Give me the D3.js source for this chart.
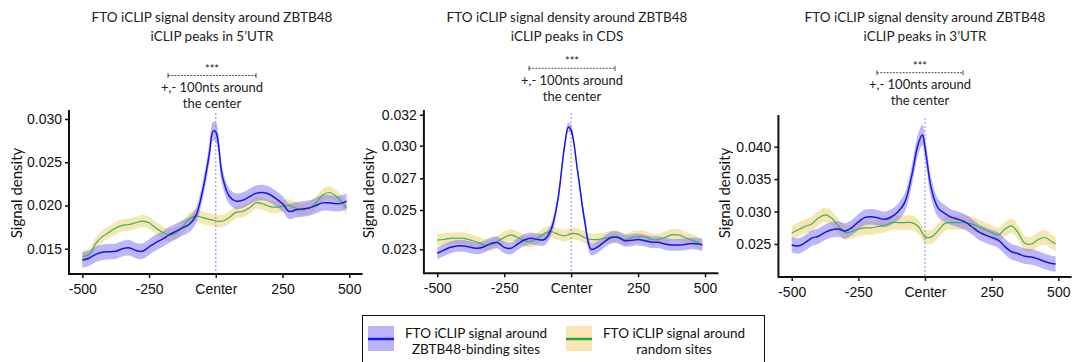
<!DOCTYPE html>
<html>
<head>
<meta charset="utf-8">
<script src="https://cdn.jsdelivr.net/npm/d3@7"></script>
<style>
  body { margin: 0; background: #fff; }
  svg { display: block; font-family: Lato, "Open Sans", sans-serif; }
</style>
</head>
<body>
<svg id="chart" width="1078" height="362"></svg>
<script>
// Positions around the peak centre (nt)
const positions = [-500, -475, -450, -425, -400, -375, -350, -325, -300, -275,
  -250, -225, -200, -175, -150, -125, -100, -75, -50, -25,
  -10, 0, 25, 50, 75, 100, 125, 150, 175, 200,
  225, 250, 275, 300, 325, 350, 375, 400, 425, 450, 475, 490];

// 5'UTR panel
const utr5Binding = [.0137, .0139, .01435, .0146, .01465, .0147, .0150, .0151, .0148, .0147,
  .0152, .0157, .0161, .0166, .0170, .0174, .0178, .0188, .0216, .0258,
  .0286, .0285, .0233, .0211, .0205, .0206, .0210, .0214, .0215, .0213,
  .0208, .0202, .0193, .0195, .0196, .0197, .0200, .0203, .0203, .0202, .0203, .0205];
const utr5BindingSE = [.0009, .0009, .0009, .0009, .0009, .0009, .0009, .0009, .0009, .0009,
  .0009, .0009, .0009, .0009, .0009, .0009, .0009, .0009, .0010, .0011,
  .0011, .0011, .0010, .0009, .0009, .0009, .0009, .0009, .0009, .0009,
  .0009, .0009, .0009, .0009, .0009, .0009, .0009, .0009, .0009, .0009, .0009, .0009];
const utr5Random = [.0141, .0143, .0156, .0164, .0169, .0174, .0177, .0178, .0180, .0182,
  .0180, .0174, .0169, .0166, .0168, .0175, .0184, .0188, .0186, .0184,
  .0183, .0182, .0182, .0186, .0192, .0193, .0197, .0203, .0202, .0199,
  .0198, .0199, .0200, .0197, .0195, .0197, .0203, .0212, .0215, .0211, .0203, .0197];
const utr5RandomSE = [.0007, .0007, .0007, .0007, .0007, .0007, .0007, .0007, .0007, .0007,
  .0007, .0007, .0007, .0007, .0007, .0007, .0007, .0007, .0007, .0007,
  .0007, .0007, .0007, .0007, .0007, .0007, .0007, .0007, .0007, .0007,
  .0007, .0007, .0007, .0007, .0007, .0007, .0007, .0007, .0007, .0007, .0007, .0007];

// CDS panel
const cdsBinding = [.0228, .02296, .0231, .02317, .02317, .0231, .02305, .02313, .0233, .02334,
  .0231, .02305, .02327, .02347, .02356, .0235, .0235, .0240, .0256, .0299,
  .0312, .0310, .0275, .0245, .0230, .02313, .02339, .0236, .0236, .02344,
  .02346, .0235, .02344, .02336, .02336, .02327, .02322, .02322, .02325, .0233, .02327, .02322];
const cdsBindingSE = [.0003, .0003, .0003, .0003, .0003, .0003, .0003, .0003, .0003, .0003,
  .0003, .0003, .0003, .0003, .0003, .0003, .0003, .0003, .0003, .0003,
  .0003, .0003, .0003, .0003, .0003, .0003, .0003, .0003, .0003, .0003,
  .0003, .0003, .0003, .0003, .0003, .0003, .0003, .0003, .0003, .0003, .0003, .0003];
const cdsRandom = [.02347, .0235, .02356, .02356, .02356, .02347, .02336, .02322, .02322, .0234,
  .0236, .02373, .0236, .02344, .0234, .02356, .02381, .0239, .02378, .02368,
  .02375, .0238, .02377, .0236, .0235, .0235, .02356, .02364, .02364, .0235,
  .0236, .02364, .02364, .0235, .0235, .0236, .02373, .02373, .0236, .02347, .02334, .02322];
const cdsRandomSE = [.0003, .0003, .0003, .0003, .0003, .0003, .0003, .0003, .0003, .0003,
  .0003, .0003, .0003, .0003, .0003, .0003, .0003, .0003, .0003, .0003,
  .0003, .0003, .0003, .0003, .0003, .0003, .0003, .0003, .0003, .0003,
  .0003, .0003, .0003, .0003, .0003, .0003, .0003, .0003, .0003, .0003, .0003, .0003];

// 3'UTR panel
const utr3Binding = [.02485, .0247, .0252, .0259, .0262, .0268, .0272, .0273, .0270, .0275,
  .0284, .0291, .0292, .0290, .0288, .0292, .0300, .0315, .0355, .0405,
  .0418, .0399, .0333, .0305, .0297, .0291, .0288, .0284, .0277, .0269,
  .0264, .0260, .0256, .0246, .0238, .0235, .0231, .0230, .0227, .0223, .0220, .0219];
const utr3BindingSE = [.0012, .0012, .0012, .0012, .0012, .0012, .0012, .0012, .0012, .0012,
  .0012, .0012, .0012, .0012, .0012, .0012, .0013, .0014, .0016, .0016,
  .0016, .0016, .0016, .0014, .0013, .0012, .0012, .0012, .0012, .0012,
  .0012, .0012, .0012, .0012, .0012, .0012, .0012, .0012, .0012, .0012, .0012, .0012];
const utr3Random = [.0267, .0272, .0277, .0281, .0290, .0295, .0290, .0278, .0268, .0269,
  .0273, .0275, .0275, .0277, .0279, .0283, .0283, .0283, .0283, .0277,
  .0267, .0261, .0261, .0271, .0282, .0283, .0283, .0283, .0281, .0277,
  .0272, .0268, .0264, .0273, .0278, .0267, .0251, .0250, .0257, .0260, .0254, .0250];
const utr3RandomSE = [.0011, .0011, .0011, .0011, .0011, .0011, .0011, .0011, .0011, .0011,
  .0011, .0011, .0011, .0011, .0011, .0011, .0011, .0011, .0011, .0011,
  .0011, .0011, .0011, .0011, .0011, .0011, .0011, .0011, .0011, .0011,
  .0011, .0011, .0011, .0011, .0011, .0011, .0011, .0011, .0011, .0011, .0011, .0011];

// Axis ticks and labels
const xTicks = [-500, -250, 0, 250, 500];
const xTickLabels = ["-500", "-250", "Center", "250", "500"];
const utr5Ticks = [0.015, 0.020, 0.025, 0.030];
const cdsTicks = [0.023, 0.025, 0.027, 0.030, 0.032];
const utr3Ticks = [0.025, 0.030, 0.035, 0.040];

const titles = ["5\u2019UTR", "CDS", "3\u2019UTR"];
const legendLabels = [["FTO iCLIP signal around", "ZBTB48-binding sites"],
  ["FTO iCLIP signal around", "random sites"]];

const blueLine = "#1515f2", blueBand = "#7b6ff0";
const greenLine = "#35b26e", yellowBand = "#f0d67a";

// Panel layout
const panels = [
  { region: titles[0], binding: utr5Binding, bindingSE: utr5BindingSE, random: utr5Random, randomSE: utr5RandomSE,
    ticks: utr5Ticks, yDomain: [0.015, 0.030], yRange: [248.7, 119],
    xRange: [69, 362.6], top: 110, bottom: 274, titleX: 212, ann: { x: 212, y: 75.5, x0: 168, x1: 256 }, labelX: 22 },
  { region: titles[1], binding: cdsBinding, bindingSE: cdsBindingSE, random: cdsRandom, randomSE: cdsRandomSE,
    ticks: cdsTicks, yDomain: cdsTicks, yRange: [249.3, 210, 178.3, 145.7, 114.7],
    xRange: [423.9, 718.4], top: 110, bottom: 273.3, titleX: 567, ann: { x: 572, y: 68.3, x0: 529, x1: 615 }, labelX: 374 },
  { region: titles[2], binding: utr3Binding, bindingSE: utr3BindingSE, random: utr3Random, randomSE: utr3RandomSE,
    ticks: utr3Ticks, yDomain: [0.025, 0.040], yRange: [244, 146.7],
    xRange: [778.4, 1071.6], top: 115, bottom: 277, titleX: 925, ann: { x: 920, y: 72.7, x0: 877, x1: 963 }, labelX: 730 }
];

const svg = d3.select("#chart");

panels.forEach((p) => {
  const x = d3.scaleLinear().domain([-550, 550]).range(p.xRange);
  const y = d3.scaleLinear().domain(p.yDomain).range(p.yRange);
  const g = svg.append("g");

  // title
  const title = g.append("text")
    .attr("text-anchor", "middle")
    .attr("font-size", 13.5)
    .attr("fill", "#222");
  title.append("tspan").attr("x", p.titleX).attr("y", 21.5).text("FTO iCLIP signal density around ZBTB48");
  title.append("tspan").attr("x", p.titleX).attr("y", 40.5).text("iCLIP peaks in " + p.region);

  // significance annotation
  const a = p.ann;
  g.append("text").attr("x", a.x).attr("y", a.y - 3).attr("text-anchor", "middle")
    .attr("font-size", 11).attr("fill", "#222").text("***");
  g.append("line").attr("x1", a.x0).attr("x2", a.x1).attr("y1", a.y).attr("y2", a.y)
    .attr("stroke", "#222").attr("stroke-width", 0.8).attr("stroke-dasharray", "2,1.2");
  [a.x0, a.x1].forEach((bx) => {
    g.append("line").attr("x1", bx).attr("x2", bx).attr("y1", a.y - 2.5).attr("y2", a.y + 2.5)
      .attr("stroke", "#222").attr("stroke-width", 0.8);
  });
  const note = g.append("text").attr("text-anchor", "middle").attr("font-size", 13).attr("fill", "#222");
  note.append("tspan").attr("x", a.x).attr("y", a.y + 16.5).text("+,- 100nts around");
  note.append("tspan").attr("x", a.x).attr("y", a.y + 32.5).text("the center");

  // bands and lines
  const pts = (vals, se) => positions.map((pos, i) => ({ x: pos, v: vals[i], se: se[i] }));
  const curve = d3.curveCatmullRom.alpha(0.5);
  const area = d3.area().curve(curve)
    .x((d) => x(d.x)).y0((d) => y(d.v - d.se)).y1((d) => y(d.v + d.se));
  const line = d3.line().curve(curve).x((d) => x(d.x)).y((d) => y(d.v));
  const rnd = pts(p.random, p.randomSE);
  const bind = pts(p.binding, p.bindingSE);

  g.append("path").datum(rnd).attr("d", area).attr("fill", yellowBand).attr("opacity", 0.6);
  g.append("path").datum(bind).attr("d", area).attr("fill", blueBand).attr("opacity", 0.5);

  // centre line
  g.append("line").attr("x1", x(0)).attr("x2", x(0)).attr("y1", p.top + 3).attr("y2", p.bottom)
    .attr("stroke", "#8a8af5").attr("stroke-width", 1).attr("stroke-dasharray", "2,2");

  g.append("path").datum(rnd).attr("d", line).attr("fill", "none")
    .attr("stroke", greenLine).attr("stroke-width", 1.2);
  g.append("path").datum(bind).attr("d", line).attr("fill", "none")
    .attr("stroke", blueLine).attr("stroke-width", 1.5);

  // axes
  const xAxis = d3.axisBottom(x).tickValues(xTicks)
    .tickFormat((d, i) => xTickLabels[i]).tickSize(4).tickPadding(6);
  const gx = g.append("g").attr("transform", `translate(0,${p.bottom})`).call(xAxis);
  gx.select(".domain").remove();
  gx.selectAll(".tick line").attr("stroke", "#111").attr("stroke-width", 1.5);
  gx.selectAll(".tick text").attr("font-size", 14).attr("font-family", null).attr("fill", "#111");

  const yAxis = d3.axisLeft(y).tickValues(p.ticks).tickFormat(d3.format(".3f")).tickSize(4).tickPadding(3);
  const gy = g.append("g").attr("transform", `translate(${p.xRange[0]},0)`).call(yAxis);
  gy.select(".domain").remove();
  gy.selectAll(".tick line").attr("stroke", "#111").attr("stroke-width", 1.5);
  gy.selectAll(".tick text").attr("font-size", 14).attr("font-family", null).attr("fill", "#111");

  g.append("line").attr("x1", p.xRange[0]).attr("x2", p.xRange[1]).attr("y1", p.bottom).attr("y2", p.bottom)
    .attr("stroke", "#111").attr("stroke-width", 2);
  g.append("line").attr("x1", p.xRange[0]).attr("x2", p.xRange[0]).attr("y1", p.top).attr("y2", p.bottom + 1)
    .attr("stroke", "#111").attr("stroke-width", 2);

  g.append("text")
    .attr("transform", `translate(${p.labelX},193) rotate(-90)`)
    .attr("text-anchor", "middle").attr("font-size", 15).attr("fill", "#111")
    .text("Signal density");
});

// legend
const legend = svg.append("g");
legend.append("rect").attr("x", 362.5).attr("y", 315.5).attr("width", 402).attr("height", 60)
  .attr("fill", "none").attr("stroke", "#111").attr("stroke-width", 1);
const items = [
  { sx: 368, band: "#bcb4f8", line: blueLine, tx: 476, labels: legendLabels[0] },
  { sx: 566, band: "#fbe6b2", line: "#22a84a", tx: 674, labels: legendLabels[1] }
];
items.forEach((it) => {
  legend.append("rect").attr("x", it.sx).attr("y", 326).attr("width", 26).attr("height", 25).attr("fill", it.band);
  legend.append("line").attr("x1", it.sx).attr("x2", it.sx + 26).attr("y1", 339).attr("y2", 339)
    .attr("stroke", it.line).attr("stroke-width", 2.5);
  const t = legend.append("text").attr("text-anchor", "middle").attr("font-size", 13.5).attr("fill", "#111");
  t.append("tspan").attr("x", it.tx).attr("y", 337.5).text(it.labels[0]);
  t.append("tspan").attr("x", it.tx).attr("y", 353.5).text(it.labels[1]);
});
</script>
</body>
</html>
